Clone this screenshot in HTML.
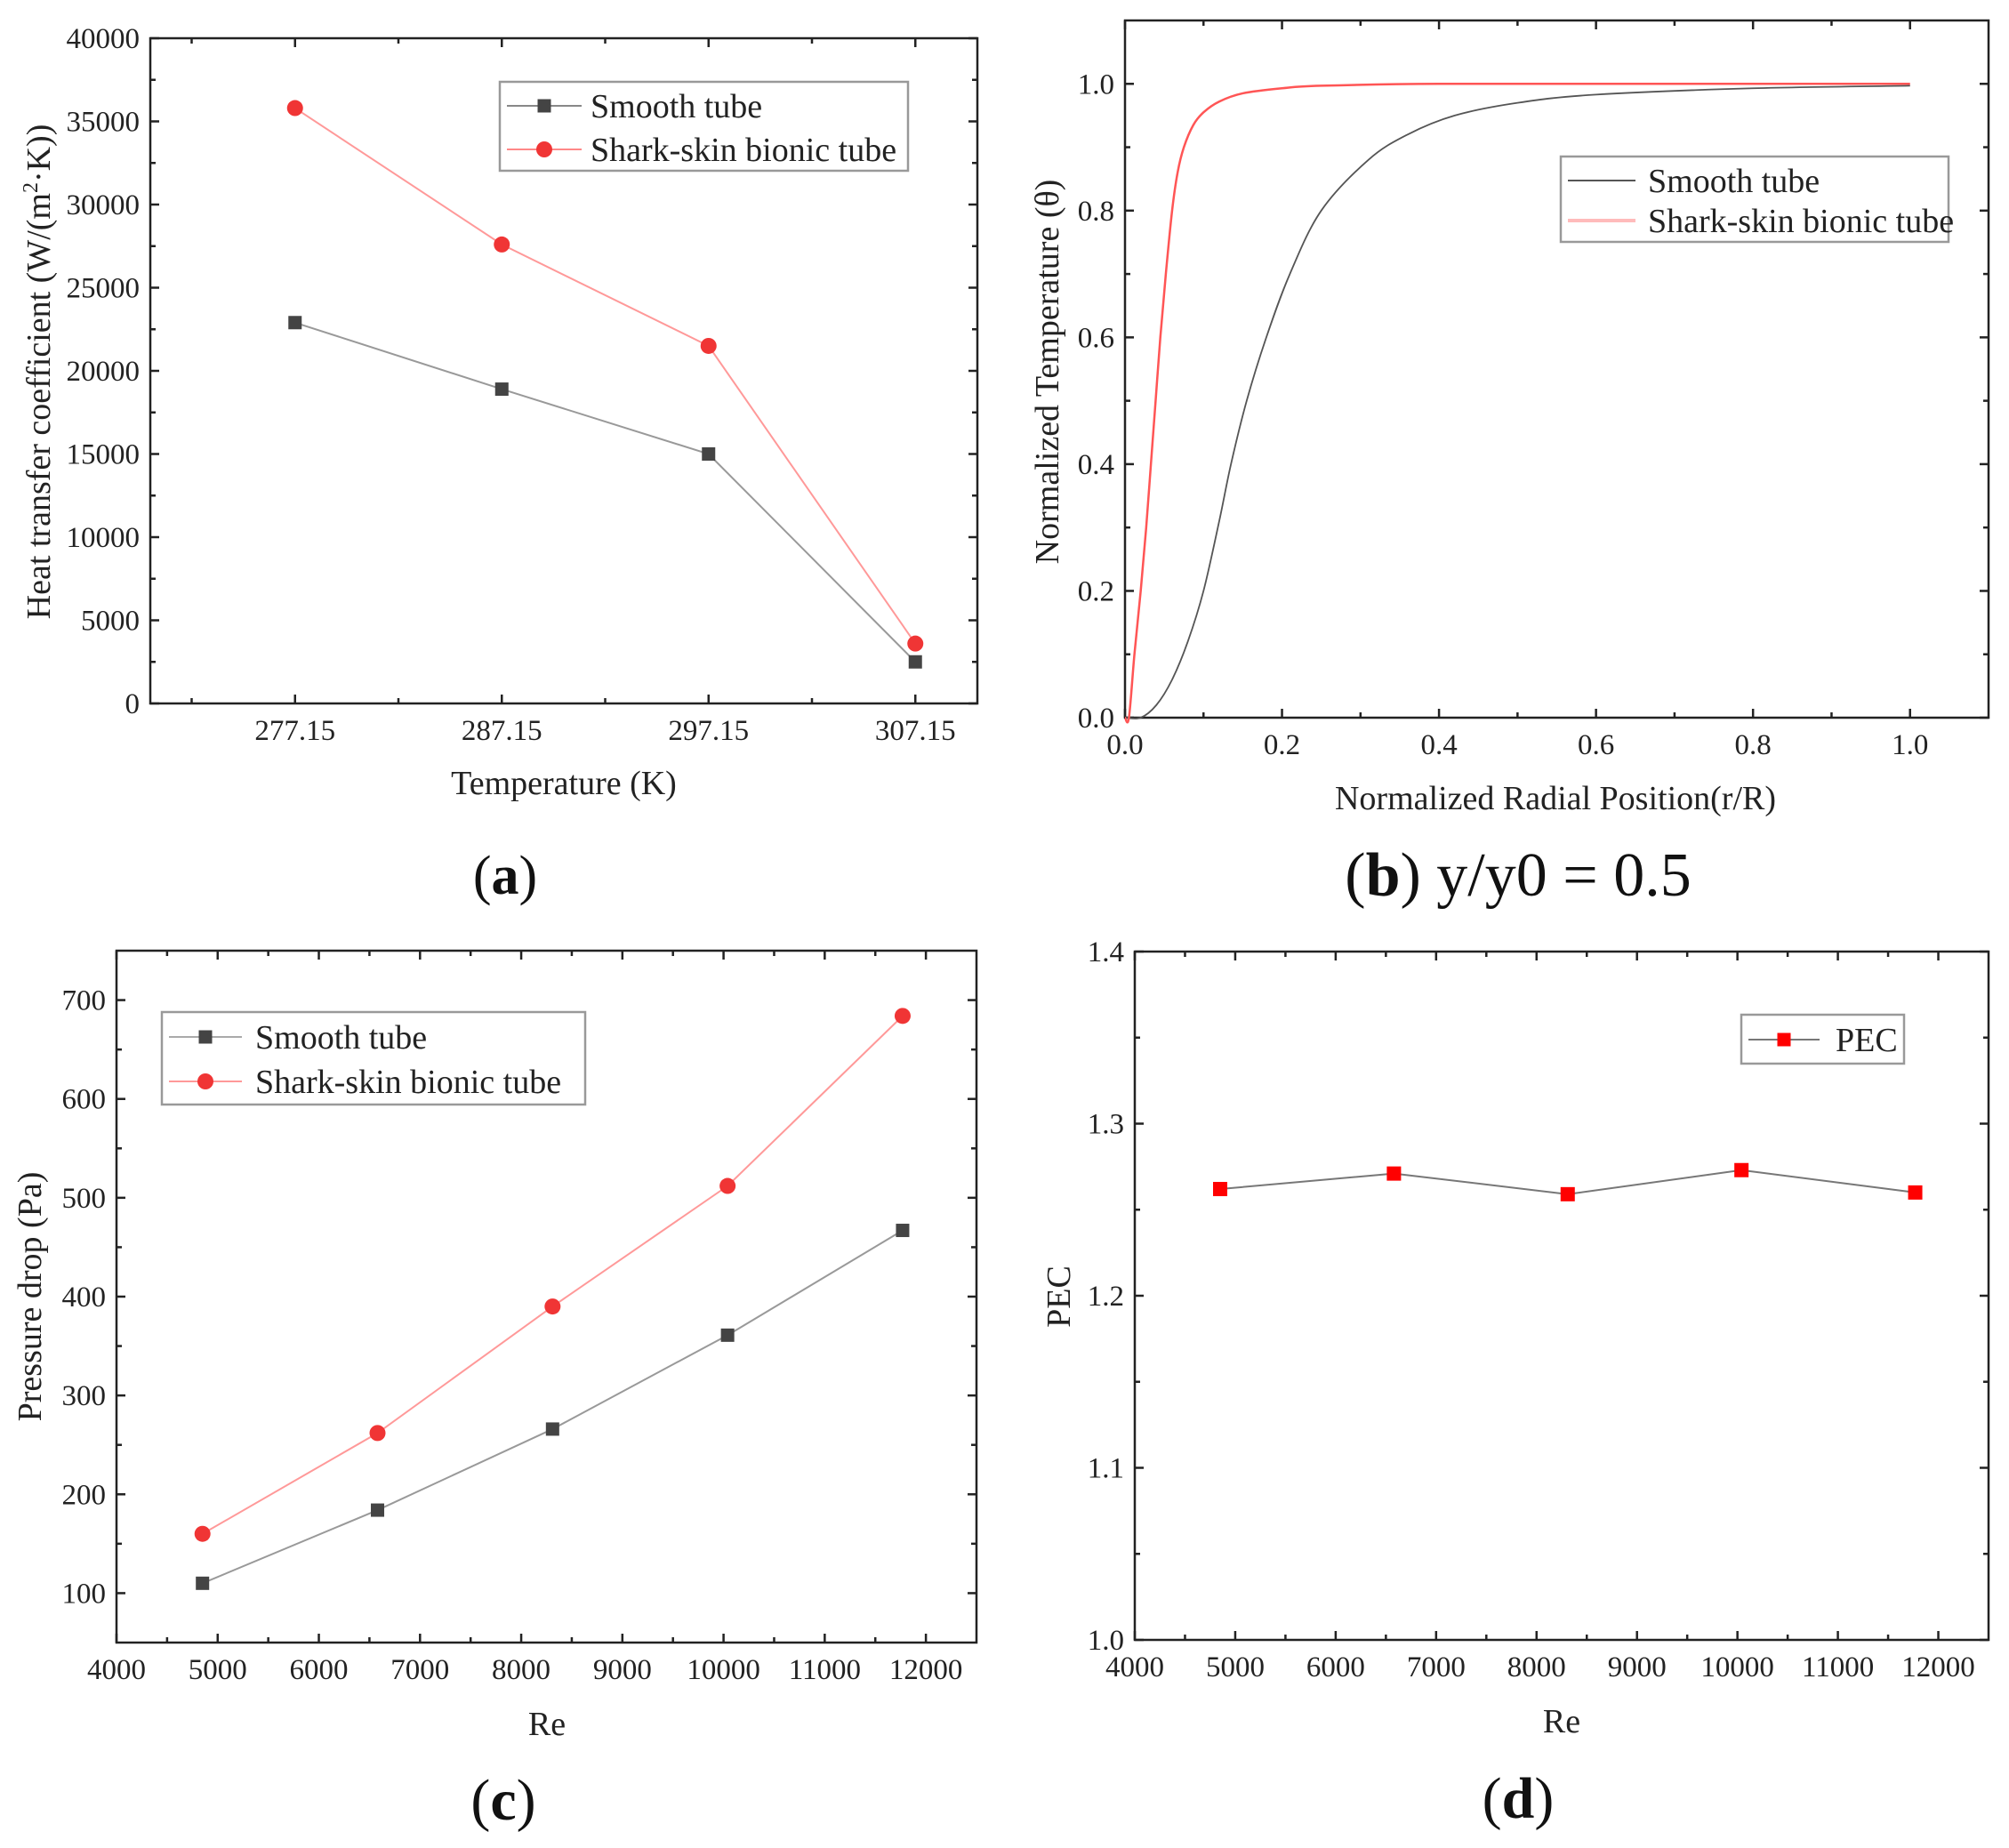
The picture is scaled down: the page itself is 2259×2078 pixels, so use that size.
<!DOCTYPE html>
<html><head><meta charset="utf-8">
<style>
html,body{margin:0;padding:0;background:#fff;}
svg{display:block;font-family:"Liberation Serif",serif;}
</style></head>
<body>
<svg id="fig" width="2259" height="2078" viewBox="0 0 2259 2078" xmlns="http://www.w3.org/2000/svg"></svg>
<script>
// ---- data (a) ----
const tempK = [277.15, 287.15, 297.15, 307.15];
const htcSmooth = [22900, 18900, 15000, 2500];
const htcShark = [35800, 27600, 21500, 3600];
const aXTicks = [277.15, 287.15, 297.15, 307.15];
const aYTicks = [0, 5000, 10000, 15000, 20000, 25000, 30000, 35000, 40000];
// ---- data (b) ----
const rSmooth = [0.02, 0.04, 0.06, 0.08, 0.1, 0.12, 0.135, 0.155, 0.18, 0.21, 0.25, 0.31, 0.36, 0.42, 0.5, 0.6, 0.8, 1.0];
const thSmooth = [0.0, 0.02, 0.06, 0.12, 0.2, 0.31, 0.4, 0.5, 0.6, 0.7, 0.8, 0.88, 0.92, 0.95, 0.97, 0.983, 0.993, 0.997];
const rShark = [0.005, 0.012, 0.02, 0.027, 0.033, 0.039, 0.045, 0.052, 0.06, 0.067, 0.075, 0.087, 0.1, 0.12, 0.15, 0.2, 0.25, 0.4, 0.7, 1.0];
const thShark = [0.0, 0.1, 0.2, 0.3, 0.4, 0.5, 0.6, 0.7, 0.8, 0.86, 0.9, 0.935, 0.955, 0.972, 0.985, 0.993, 0.997, 1.0, 1.0, 1.0];
const bXTicks = [0, 0.2, 0.4, 0.6, 0.8, 1.0];
const bYTicks = [0, 0.2, 0.4, 0.6, 0.8, 1.0];
// ---- data (c) ----
const reVals = [4850, 6580, 8310, 10040, 11770];
const dpSmooth = [110, 184, 266, 361, 467];
const dpShark = [160, 262, 390, 512, 684];
const reTicks = [4000, 5000, 6000, 7000, 8000, 9000, 10000, 11000, 12000];
const cYTicks = [100, 200, 300, 400, 500, 600, 700];
// ---- data (d) ----
const pecVals = [1.262, 1.271, 1.259, 1.273, 1.260];
const dYTicks = [1.0, 1.1, 1.2, 1.3, 1.4];

const NS = "http://www.w3.org/2000/svg";
const fig = document.getElementById("fig");
function mk(parent, tag, attrs, text) {
  const e = document.createElementNS(NS, tag);
  for (const k in attrs) e.setAttribute(k, attrs[k]);
  if (text !== undefined) e.textContent = text;
  parent.appendChild(e);
  return e;
}
function smoothPath(pts) {
  let d = "M" + pts[0][0] + "," + pts[0][1];
  for (let i = 0; i < pts.length - 1; i++) {
    const p0 = pts[i - 1] || pts[i], p1 = pts[i], p2 = pts[i + 1], p3 = pts[i + 2] || p2;
    const c1x = p1[0] + (p2[0] - p0[0]) / 6, c1y = p1[1] + (p2[1] - p0[1]) / 6;
    const c2x = p2[0] - (p3[0] - p1[0]) / 6, c2y = p2[1] - (p3[1] - p1[1]) / 6;
    d += " C" + c1x + "," + c1y + " " + c2x + "," + c2y + " " + p2[0] + "," + p2[1];
  }
  return d;
}

function panel(cfg) {
  const g = mk(fig, "g", {});
  
  
  const X = v => cfg.L + (v - cfg.x0) / (cfg.x1 - cfg.x0) * (cfg.R - cfg.L);
  const Y = v => cfg.B - (v - cfg.y0) / (cfg.y1 - cfg.y0) * (cfg.B - cfg.T);
  cfg.X = X; cfg.Y = Y;
  const tg = mk(g, "g", {stroke: "#222", "stroke-width": 2.5});
  
  
  const xt = [];
  for (let i = 0; i < cfg.xTicks.length; i++) xt.push([cfg.xTicks[i], 10]);
  for (let i = 0; i < cfg.xTicks.length; i++) { const m = cfg.xTicks[i] + cfg.xMinor; if (m < cfg.x1) xt.push([m, 6]); }
  if (cfg.xTicks[0] - cfg.xMinor > cfg.x0) xt.push([cfg.xTicks[0] - cfg.xMinor, 6]);
  xt.forEach(t => { const x = X(t[0]);
    mk(tg, "line", {x1: x, x2: x, y1: cfg.B, y2: cfg.B - t[1]});
    mk(tg, "line", {x1: x, x2: x, y1: cfg.T, y2: cfg.T + t[1]}); });
  const yt = [];
  for (let i = 0; i < cfg.yTicks.length; i++) yt.push([cfg.yTicks[i], 10]);
  for (let i = 0; i < cfg.yTicks.length; i++) { const m = cfg.yTicks[i] + cfg.yMinor; if (m < cfg.y1 - 1e-9) yt.push([m, 6]); }
  if (cfg.yTicks[0] - cfg.yMinor > cfg.y0 + 1e-9) yt.push([cfg.yTicks[0] - cfg.yMinor, 6]);
  yt.forEach(t => { const y = Y(t[0]);
    mk(tg, "line", {x1: cfg.L, x2: cfg.L + t[1], y1: y, y2: y});
    mk(tg, "line", {x1: cfg.R, x2: cfg.R - t[1], y1: y, y2: y}); });
  const fr = mk(g, "rect", {x: cfg.L, y: cfg.T, width: cfg.R - cfg.L, height: cfg.B - cfg.T, fill: "none", stroke: "#222", "stroke-width": 2.5});
  
  
  const lg = mk(g, "g", {"font-size": 33, fill: "#222"});
  
  
  cfg.xTicks.forEach(t => { const tx = mk(lg, "text", {x: X(t), y: cfg.B + 41, "text-anchor": "middle"}, cfg.xf(t));
    
     });
  cfg.yTicks.forEach(t => { const tx = mk(lg, "text", {x: cfg.L - 12, y: Y(t) + 11, "text-anchor": "end"}, cfg.yf(t));
    
     });
  const xtl = mk(g, "text", {x: cfg.xtx, y: cfg.xty, "text-anchor": "middle", "font-size": 38, fill: "#222"}, cfg.xTitle);
  
  
  const ytl = mk(g, "text", {x: 0, y: 0, "text-anchor": "middle", "font-size": 38, fill: "#222", transform: "translate(" + cfg.ytx + "," + cfg.yty + ") rotate(-90)"});
  ytl.innerHTML = cfg.yTitle;
  
  
  return g;
}
function sq(g, x, y, s, fill, name) {
  const e = mk(g, "rect", {x: x - s / 2, y: y - s / 2, width: s, height: s, fill: fill});
  
  
}
function circ(g, x, y, r, fill, name) {
  const e = mk(g, "circle", {cx: x, cy: y, r: r, fill: fill});
  
  
}
function legend(g, x, y, w, h, items) {
  const lg = mk(g, "g", {});
  
  
  mk(lg, "rect", {x: x, y: y, width: w, height: h, fill: "#fff", stroke: "#999", "stroke-width": 2.5});
  items.forEach((it, i) => {
    const cy = y + it.dy;
    const eg = mk(lg, "g", {});
    
    
    mk(eg, "line", {x1: x + 8, x2: x + it.lw, y1: cy, y2: cy, stroke: it.lc, "stroke-width": it.sw || 2});
    if (it.m === "sq") sq(eg, x + it.lw / 2 + 4, cy, 15, it.mc, 'legend-marker');
    if (it.m === "c") circ(eg, x + it.lw / 2 + 4, cy, 9, it.mc, 'legend-marker');
    mk(eg, "text", {x: x + it.tx, y: cy + 13, "font-size": 38, fill: "#222"}, it.label);
  });
}
function caption(x, y, bold, rest, size, name) {
  const t = mk(fig, "text", {x: x, y: y, "text-anchor": "middle", "font-size": size, fill: "#111"});
  t.innerHTML = '(<tspan font-weight="bold">' + bold + '</tspan>)' + rest;
  
  
}

// ===== Panel (a) =====
const A = {name: "chart-a", L: 169, R: 1099, T: 43, B: 791, x0: 270.15, x1: 310.15, y0: 0, y1: 40000,
  xTicks: aXTicks, xMinor: 5, yTicks: aYTicks, yMinor: 2500, xf: v => v.toFixed(2), yf: v => String(v),
  xTitle: "Temperature (K)", xtx: 634, xty: 893, ytx: 56, yty: 418,
  yTitle: 'Heat transfer coefficient (W/(m<tspan dy="-14" font-size="24">2</tspan><tspan dy="14">·K))</tspan>'};
const ga = panel(A);
mk(ga, "polyline", {points: tempK.map((v, i) => A.X(v) + "," + A.Y(htcSmooth[i])).join(" "), fill: "none", stroke: "#999", "stroke-width": 2});
mk(ga, "polyline", {points: tempK.map((v, i) => A.X(v) + "," + A.Y(htcShark[i])).join(" "), fill: "none", stroke: "#f99", "stroke-width": 2});
tempK.forEach((v, i) => sq(ga, A.X(v), A.Y(htcSmooth[i]), 15, "#444", 'smooth-point'));
tempK.forEach((v, i) => circ(ga, A.X(v), A.Y(htcShark[i]), 9, "#f03535", 'shark-point'));
legend(ga, 562, 92, 459, 100, [
  {dy: 27, lw: 92, lc: "#888", m: "sq", mc: "#444", tx: 102, label: "Smooth tube"},
  {dy: 76, lw: 92, lc: "#f88", m: "c", mc: "#f03535", tx: 102, label: "Shark-skin bionic tube"}]);
caption(568, 1005, "a", "", 62, "caption-a");

// ===== Panel (b) =====
const Bc = {name: "chart-b", L: 1265, R: 2236, T: 23, B: 807, x0: 0, x1: 1.1, y0: 0, y1: 1.1,
  xTicks: bXTicks, xMinor: 0.1, yTicks: bYTicks, yMinor: 0.1, xf: v => v.toFixed(1), yf: v => v.toFixed(1),
  xTitle: "Normalized Radial Position(r/R)", xtx: 1749, xty: 910, ytx: 1190, yty: 418,
  yTitle: "Normalized Temperature (θ)"};
const gb = panel(Bc);
const pS = [[Bc.X(0.0), Bc.Y(0)]].concat(rSmooth.map((v, i) => [Bc.X(v), Bc.Y(thSmooth[i])]));
const pK = [[Bc.X(0.0), Bc.Y(0)]].concat(rShark.map((v, i) => [Bc.X(v), Bc.Y(thShark[i])]));
const ls = mk(gb, "path", {d: smoothPath(pS), fill: "none", stroke: "#555", "stroke-width": 1.8});


const lk = mk(gb, "path", {d: smoothPath(pK), fill: "none", stroke: "#f55", "stroke-width": 2.5});


legend(gb, 1755, 176, 436, 96, [
  {dy: 27, lw: 84, lc: "#555", m: "", tx: 98, label: "Smooth tube"},
  {dy: 72, lw: 84, lc: "#fbb", sw: 4, m: "", tx: 98, label: "Shark-skin bionic tube"}]);
caption(1707, 1007, "b", " y/y0 = 0.5", 70, "caption-b");

// ===== Panel (c) =====
const C = {name: "chart-c", L: 131, R: 1098, T: 1069, B: 1847, x0: 4000, x1: 12500, y0: 50, y1: 750,
  xTicks: reTicks, xMinor: 500, yTicks: cYTicks, yMinor: 50, xf: v => String(v), yf: v => String(v),
  xTitle: "Re", xtx: 615, xty: 1951, ytx: 46, yty: 1458, yTitle: "Pressure drop (Pa)"};
const gc = panel(C);
mk(gc, "polyline", {points: reVals.map((v, i) => C.X(v) + "," + C.Y(dpSmooth[i])).join(" "), fill: "none", stroke: "#999", "stroke-width": 2});
mk(gc, "polyline", {points: reVals.map((v, i) => C.X(v) + "," + C.Y(dpShark[i])).join(" "), fill: "none", stroke: "#f99", "stroke-width": 2});
reVals.forEach((v, i) => sq(gc, C.X(v), C.Y(dpSmooth[i]), 15, "#444", 'smooth-point'));
reVals.forEach((v, i) => circ(gc, C.X(v), C.Y(dpShark[i]), 9, "#f03535", 'shark-point'));
legend(gc, 182, 1138, 476, 104, [
  {dy: 28, lw: 90, lc: "#aaa", m: "sq", mc: "#444", tx: 105, label: "Smooth tube"},
  {dy: 78, lw: 90, lc: "#f99", m: "c", mc: "#f03535", tx: 105, label: "Shark-skin bionic tube"}]);
caption(566, 2046, "c", "", 66, "caption-c");

// ===== Panel (d) =====
const D = {name: "chart-d", L: 1276, R: 2236, T: 1070, B: 1844, x0: 4000, x1: 12500, y0: 1.0, y1: 1.4,
  xTicks: reTicks, xMinor: 500, yTicks: dYTicks, yMinor: 0.05, xf: v => String(v), yf: v => v.toFixed(1),
  xTitle: "Re", xtx: 1756, xty: 1948, ytx: 1203, yty: 1458, yTitle: "PEC"};
const gd = panel(D);
mk(gd, "polyline", {points: reVals.map((v, i) => D.X(v) + "," + D.Y(pecVals[i])).join(" "), fill: "none", stroke: "#777", "stroke-width": 2});
reVals.forEach((v, i) => sq(gd, D.X(v), D.Y(pecVals[i]), 16, "#f00", 'pec-point'));
legend(gd, 1958, 1141, 183, 55, [
  {dy: 28, lw: 88, lc: "#777", m: "sq", mc: "#f00", tx: 106, label: "PEC"}]);
caption(1707, 2044, "d", "", 66, "caption-d");
</script>
</body></html>
